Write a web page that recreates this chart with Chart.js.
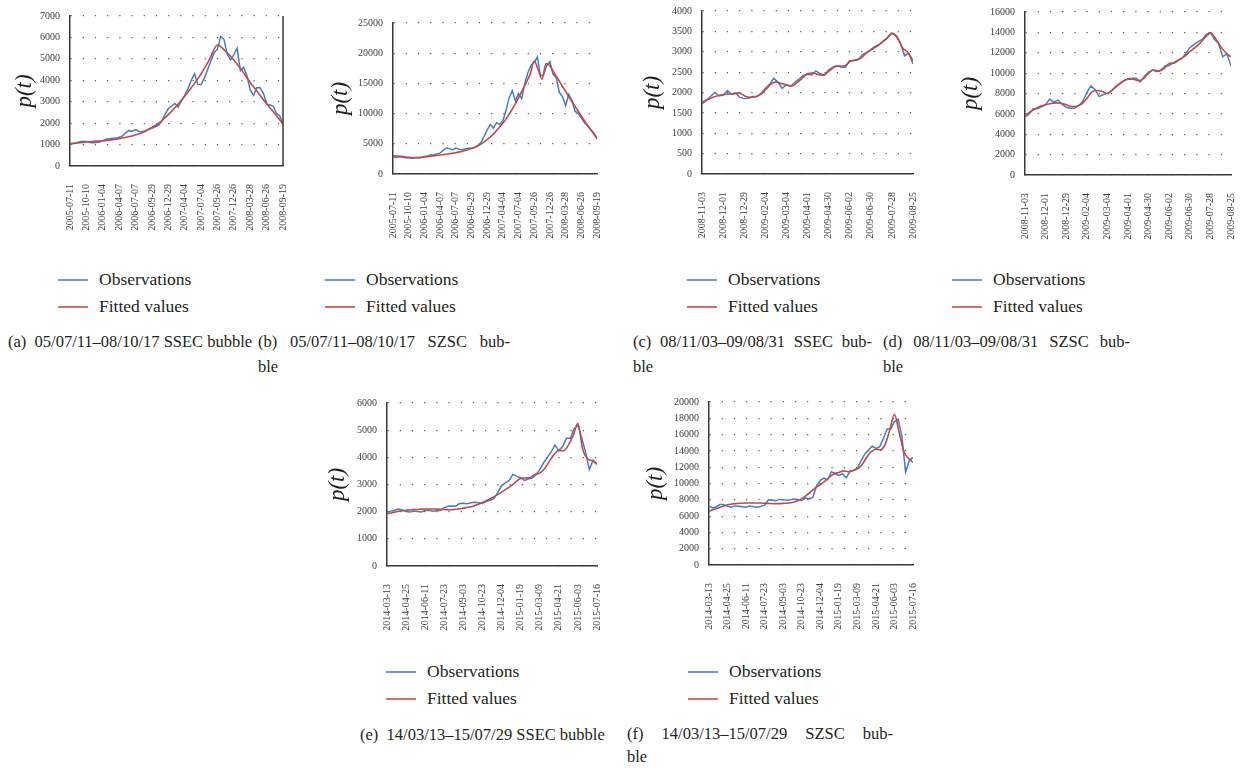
<!DOCTYPE html>
<html>
<head>
<meta charset="utf-8">
<title>Bubble fits</title>
<script src="https://cdn.jsdelivr.net/npm/chart.js@4.4.1/dist/chart.umd.min.js"></script>
<style>
  html, body { margin: 0; padding: 0; background: #fff; }
  body { position: relative; width: 1258px; height: 769px; overflow: hidden;
         font-family: "Liberation Serif", "Times New Roman", serif; color: #231f20; }
  canvas { position: absolute; }
  .legend { position: absolute; font-size: 17.5px; }
  .legend div { height: 27px; display: flex; align-items: center; white-space: nowrap; }
  .legend i { display: inline-block; width: 30px; height: 2px; margin-right: 11px; }
  .legend i.obs { background: #6f9bd1; }
  .legend i.fit { background: #d36e6b; }
  .cap { position: absolute; font-size: 16.5px; line-height: 25px; white-space: nowrap; }
  .cap .j { text-align: justify; text-align-last: justify; }
</style>
</head>
<body>
<canvas id="chartA"></canvas>
<canvas id="chartB"></canvas>
<canvas id="chartC"></canvas>
<canvas id="chartD"></canvas>
<canvas id="chartE"></canvas>
<canvas id="chartF"></canvas>

<div class="legend" style="left:58px;top:266px"><div><i class="obs"></i>Observations</div><div><i class="fit"></i>Fitted values</div></div>
<div class="legend" style="left:325px;top:266px"><div><i class="obs"></i>Observations</div><div><i class="fit"></i>Fitted values</div></div>
<div class="legend" style="left:687px;top:266px"><div><i class="obs"></i>Observations</div><div><i class="fit"></i>Fitted values</div></div>
<div class="legend" style="left:952px;top:266px"><div><i class="obs"></i>Observations</div><div><i class="fit"></i>Fitted values</div></div>
<div class="legend" style="left:386px;top:658px"><div><i class="obs"></i>Observations</div><div><i class="fit"></i>Fitted values</div></div>
<div class="legend" style="left:688px;top:658px"><div><i class="obs"></i>Observations</div><div><i class="fit"></i>Fitted values</div></div>

<div class="cap" style="left:8px;top:329px">(a)&nbsp; 05/07/11–08/10/17 SSEC bubble</div>
<div class="cap" style="left:258px;top:329px;width:252px"><div class="j">(b) 05/07/11–08/10/17 SZSC bub-</div><div>ble</div></div>
<div class="cap" style="left:633px;top:329px;width:239px"><div class="j">(c) 08/11/03–09/08/31 SSEC bub-</div><div>ble</div></div>
<div class="cap" style="left:883px;top:329px;width:247px"><div class="j">(d) 08/11/03–09/08/31 SZSC bub-</div><div>ble</div></div>
<div class="cap" style="left:360px;top:722px">(e)&nbsp; 14/03/13–15/07/29 SSEC bubble</div>
<div class="cap" style="left:627px;top:722px;width:266px;line-height:23px"><div class="j">(f) 14/03/13–15/07/29 SZSC bub-</div><div>ble</div></div>

<script>
// tick labels (dates shown under each x axis)
const dates2005 = ['2005-07-11','2005-10-10','2006-01-04','2006-04-07','2006-07-07','2006-09-29',
  '2006-12-29','2007-04-04','2007-07-04','2007-09-26','2007-12-26','2008-03-28','2008-06-26','2008-09-19'];
const dates2008 = ['2008-11-03','2008-12-01','2008-12-29','2009-02-04','2009-03-04','2009-04-01',
  '2009-04-30','2009-06-02','2009-06-30','2009-07-28','2009-08-25'];
const dates2014 = ['2014-03-13','2014-04-25','2014-06-11','2014-07-23','2014-09-03','2014-10-23',
  '2014-12-04','2015-01-19','2015-03-09','2015-04-21','2015-06-03','2015-07-16'];

// (a) SSEC 2005-2008
const obsA = [1030,1040,1090,1130,1160, 1140,1100,1090,1100,1120, 1180,1250,1270,1290,1300,
  1340,1400,1550,1650,1620, 1700,1610,1600,1650,1720, 1760,1830,1900,2100,2400,
  2680,2800,2920,2750,3050, 3300,3600,4000,4300,3800, 3800,4100,4500,4900,5300,
  5450,6050,5900,5200,4950, 5200,5500,4450,4600,4200, 3550,3300,3650,3650,3400,
  2900,2850,2800,2450,2350, 1950];
const fitA = [1050,1080,1120,1150,1180,1220,1270,1350,1450,1580,1800,2050,2400,2800,
  3250,3750,4300,4950,5650,5350,4950,4450,3900,3400,2900,2450,1950];

// (b) SZSC 2005-2008
const obsB = [2800,2750,2850,2800,2700, 2650,2600,2650,2700,2750, 2900,3000,3150,3200,3300,
  3450,3900,4300,4200,4000, 4300,4100,4000,4150,4250, 4300,4400,4700,5200,6200,
  7300,8200,7600,8500,8200, 8800,10500,12600,13800,12100, 13300,12500,15000,16800,18000,
  18500,19400,16200,16500,18000, 18600,16500,16000,13500,12800, 11300,13200,12200,10400,10000,
  9300,8500,8000,7300,6800, 5900];
const fitB = [3000,2980,2920,2850,2780,2740,2730,2760,2820,2900,2980,3060,3150,3230,3320,3420,
  3530,3660,3820,4000,4220,4480,4800,5200,5700,6250,6900,7600,8400,9300,10300,11400,
  12600,13900,15200,16600,18700,17300,15700,18300,17900,16800,15800,14700,13700,12600,
  11600,10600,9600,8600,7700,6800,5800];

// (c) SSEC 2008-2009
const obsC = [1720,1800,1900,2000,1920, 1930,2050,1960,1990,1880, 1850,1860,1900,1900,1980,
  2100,2200,2350,2250,2100, 2190,2150,2250,2330,2420, 2450,2430,2530,2460,2430,
  2550,2620,2660,2620,2620, 2780,2780,2800,2930,2980, 3050,3130,3180,3260,3340,
  3460,3380,3220,2900,2960, 2700];
const fitC = [1760,1820,1880,1920,1950,1960,1970,1990,1920,1880,1890,1940,2060,2200,2260,2220,
  2190,2160,2240,2350,2460,2480,2440,2420,2520,2620,2650,2650,2760,2800,2830,2950,
  3040,3120,3220,3330,3450,3360,3100,2990,2780];

// (d) SZSC 2008-2009
const obsD = [5700,6000,6500,6500,6700, 6900,7450,7150,7350,6950, 6650,6550,6550,6800,7200,
  8100,8750,8400,7700,7900, 8000,8250,8700,8950,9250, 9450,9500,9500,9150,9700,
  10100,10300,10150,10300,10700, 10750,11000,11250,11400,11900, 12500,12800,13100,13300,13800,
  14000,13300,12900,11600,11900, 10700];
const fitD = [5800,6200,6500,6750,6900,7020,7080,7050,6900,6720,6750,6950,7500,8150,8300,8200,
  8000,8350,8800,9200,9400,9400,9250,9450,10000,10300,10200,10450,10950,11000,11350,11650,
  12100,12500,12950,13500,13950,13400,12600,12000,11600];

// (e) SSEC 2014-2015
const obsE = [1970,2020,2050,2100,2060, 2010,1990,2020,2010,1990, 2040,2050,2020,2030,2040,
  2150,2200,2210,2200,2300, 2310,2290,2330,2350,2330, 2300,2380,2420,2480,2700,
  2950,3060,3150,3380,3300, 3250,3150,3200,3240,3350, 3550,3800,4000,4200,4450,
  4250,4400,4700,4700,5050, 5180,4700,4200,3550,3900, 3750];
const fitE = [1920,1960,2000,2030,2050,2070,2080,2090,2100,2100,2100,2090,2080,2070,2080,2100,
  2130,2160,2200,2260,2340,2420,2510,2610,2720,2830,2950,3100,3220,3240,3260,3370,
  3420,3580,3850,4100,4250,4240,4450,4800,5250,4300,3950,3870,3750];

// (f) SZSC 2014-2015
const obsF = [7200,7000,7150,7450,7400, 7200,7100,7250,7200,7150, 7100,7250,7150,7100,7200,
  7350,8000,7950,7900,8050, 8000,7950,8000,8100,8050, 7900,8250,8100,8300,9700,
  10400,10650,10450,11450,11200, 11000,11200,10700,11500,11600, 11900,12800,13600,14100,14600,
  14300,14500,15500,16700,16700, 17600,17900,15800,11400,12800, 13200];
const fitF = [6600,6800,7000,7200,7400,7480,7550,7580,7600,7600,7600,7600,7580,7550,7520,7530,
  7560,7600,7680,7850,8150,8550,9000,9500,9850,10300,10800,11200,11350,11550,11450,11600,
  11800,12300,13200,13900,14200,14150,14800,16600,18500,16300,14000,13100,12600];

const BLUE = '#4a7ebb', RED = '#be4b48', AXIS = '#3a3a3a', TICK = '#404040';
const tickFont = { family: 'Liberation Serif', size: 10 };

// spread a series evenly over the category range
function xy(vals, span) {
  return vals.map((v, i) => ({ x: i * span / (vals.length - 1), y: v }));
}

const rightFrame = {
  id: 'rightFrame',
  afterDraw(chart) {
    const a = chart.chartArea, ctx = chart.ctx;
    ctx.save();
    ctx.strokeStyle = AXIS;
    ctx.lineWidth = 1.5;
    ctx.beginPath();
    ctx.moveTo(a.right, a.top);
    ctx.lineTo(a.right, a.bottom);
    ctx.stroke();
    ctx.restore();
  }
};

function drawPanel(id, dates, obs, fit, yMax, yStep, box, frame) {
  const padT = 10, padR = 8, xH = 72;
  const yW = Math.round(box.left - box.title + 17);
  const span = dates.length - 1;
  const cv = document.getElementById(id);
  cv.width = Math.round(yW + box.right - box.left + padR);
  cv.height = Math.round(padT + box.bottom - box.top + xH);
  cv.style.left = (box.left - yW) + 'px';
  cv.style.top = (box.top - padT) + 'px';

  new Chart(cv, {
    type: 'line',
    data: {
      datasets: [{
        label: 'Observations',
        data: xy(obs, span),
        borderColor: BLUE,
        borderWidth: 1.5,
        pointRadius: 0,
        order: 2
      }, {
        label: 'Fitted values',
        data: xy(fit, span),
        borderColor: RED,
        borderWidth: 1.6,
        pointRadius: 0,
        cubicInterpolationMode: 'monotone',
        order: 1
      }]
    },
    options: {
      responsive: false,
      animation: false,
      events: [],
      layout: { padding: { top: padT, right: padR, left: 0, bottom: 0 } },
      plugins: { legend: { display: false }, tooltip: { enabled: false } },
      scales: {
        x: {
          type: 'linear',
          min: 0,
          max: span,
          grid: { display: false },
          border: { display: true, color: AXIS, width: 1.5 },
          afterBuildTicks: s => { s.ticks = dates.map((d, i) => ({ value: i })); },
          afterFit: s => { s.height = xH; },
          ticks: {
            autoSkip: false, minRotation: 90, maxRotation: 90, padding: 10,
            color: TICK, font: tickFont,
            callback: v => dates[v]
          }
        },
        y: {
          min: 0,
          max: yMax,
          afterFit: s => { s.width = yW; },
          ticks: {
            stepSize: yStep, autoSkip: false, padding: 10, color: TICK, font: tickFont,
            callback: v => String(v)
          },
          grid: { color: '#555', lineWidth: 1.2, drawTicks: false },
          border: { display: true, color: AXIS, width: 1.5, dash: [1.2, 11] },
          title: {
            display: true, text: 'p(t)', color: '#231f20',
            font: { family: 'Liberation Serif', style: 'italic', size: 23 },
            padding: { top: 4, bottom: 4 }
          }
        }
      }
    },
    plugins: frame ? [rightFrame] : []
  });
}

drawPanel('chartA', dates2005, obsA, fitA, 7000, 1000, { left: 70, right: 297, top: 10, bottom: 166, title: 24 }, true);
drawPanel('chartB', dates2005, obsB, fitB, 25000, 5000, { left: 393, right: 611, top: 17, bottom: 174, title: 340 }, false);
drawPanel('chartC', dates2008, obsC, fitC, 4000, 500, { left: 702, right: 927, top: 5, bottom: 174, title: 652 }, false);
drawPanel('chartD', dates2008, obsD, fitD, 16000, 2000, { left: 1025, right: 1245, top: 6, bottom: 175, title: 970 }, false);
drawPanel('chartE', dates2014, obsE, fitE, 6000, 1000, { left: 387, right: 611, top: 397, bottom: 566, title: 337 }, false);
drawPanel('chartF', dates2014, obsF, fitF, 20000, 2000, { left: 709, right: 927, top: 396, bottom: 565, title: 655 }, false);
</script>
</body>
</html>
